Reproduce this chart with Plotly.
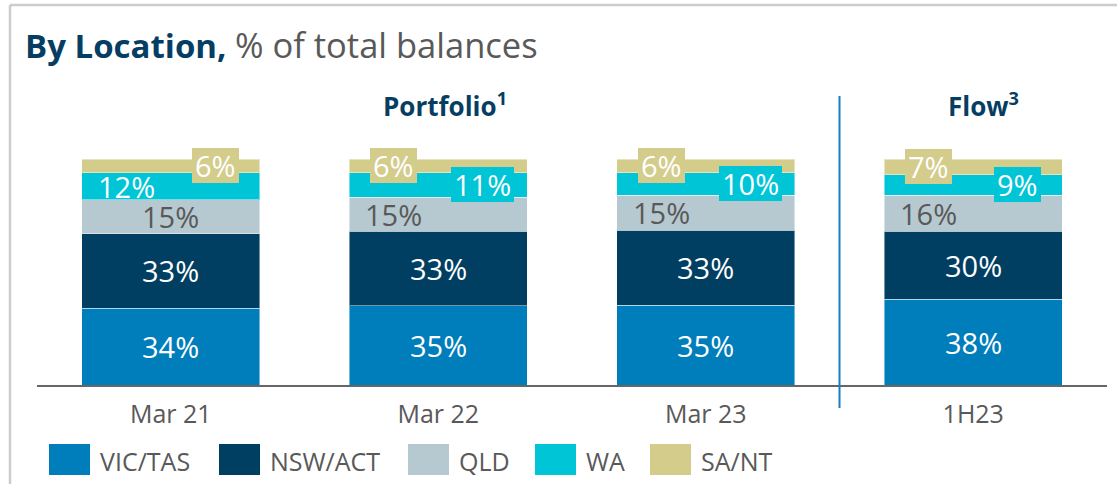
import plotly.graph_objects as go

# ---------------- data ----------------
categories = ["Mar 21", "Mar 22", "Mar 23", "1H23"]
series_names = ["VIC/TAS", "NSW/ACT", "QLD", "WA", "SA/NT"]
vic_tas = [34, 35, 35.3, 38]
nsw_act = [33, 33, 33.2, 30]
qld = [15, 15, 15.4, 16]
wa = [12, 11, 10.1, 9]
sa_nt = [6, 6, 6.0, 7]
label_vic_tas = ["34%", "35%", "35%", "38%"]
label_nsw_act = ["33%", "33%", "33%", "30%"]
label_qld = ["15%", "15%", "15%", "16%"]
label_wa = ["12%", "11%", "10%", "9%"]
label_sa_nt = ["6%", "6%", "6%", "7%"]

values = [vic_tas, nsw_act, qld, wa, sa_nt]
labels = [label_vic_tas, label_nsw_act, label_qld, label_wa, label_sa_nt]

# ---------------- styles ----------------
colors = ["#007dbb", "#003f62", "#b7c9d0", "#00c5d7", "#d3cc8b"]
text_colors = ["white", "white", "#595959", "white", "white"]
# label placement per series/category: c=centre, l=left, r=right
placement = [
    ["c", "c", "c", "c"],
    ["c", "c", "c", "c"],
    ["c", "l", "l", "l"],
    ["l", "r", "r", "r"],
    ["r", "l", "l", "l"],
]
boxed = [
    [False] * 4,
    [False] * 4,
    [False] * 4,
    [False, True, True, True],
    [True, True, True, True],
]
shift = {"c": 0, "l": -44.5, "r": 44.5}

FONT = "Open Sans"
NAVY = "#063e63"
GRAY = "#595959"

W, H = 1117, 484
L, R, T, B = 37, 1107, 159, 385


def px_x(px):
    return (px - L) / (R - L)


def px_y(py):
    return (B - py) / (B - T)


fig = go.Figure()
for name, vals, col in zip(series_names, values, colors):
    fig.add_trace(
        go.Bar(
            x=categories,
            y=vals,
            name=name,
            marker=dict(color=col, line=dict(color="rgba(255,255,255,0.45)", width=1)),
            width=0.665,
            showlegend=False,
            hoverinfo="skip",
        )
    )

annotations = []
# segment labels
for ci, cat in enumerate(categories):
    base = 0
    for si in range(len(series_names)):
        v = values[si][ci]
        mid = base + v / 2
        base += v
        ann = dict(
            x=cat,
            y=mid,
            xref="x",
            yref="y",
            text=labels[si][ci],
            showarrow=False,
            xshift=shift[placement[si][ci]],
            font=dict(family=FONT, size=29, color=text_colors[si]),
        )
        if boxed[si][ci]:
            ann.update(bgcolor=colors[si], borderpad=3, borderwidth=0, height=29)
        annotations.append(ann)

# title
annotations.append(
    dict(
        x=px_x(23), y=px_y(44.5), xref="paper", yref="paper",
        xanchor="left", yanchor="middle", showarrow=False,
        text="<b>By Location,</b> <span style='color:%s;font-size:34.5px'>%% of total balances</span>" % GRAY,
        font=dict(family=FONT, size=33, color=NAVY),
    )
)
# section headers
for txt, x0 in [("Portfolio<sup>1</sup>", 381), ("Flow<sup>3</sup>", 946)]:
    annotations.append(
        dict(
            x=px_x(x0), y=px_y(104.5), xref="paper", yref="paper",
            xanchor="left", yanchor="middle", showarrow=False,
            text="<b>%s</b>" % txt,
            font=dict(family=FONT, size=26, color=NAVY),
        )
    )

shapes = []
# custom legend
legend_x = [49, 219, 408, 535, 650]
for name, col, lx in zip(series_names, colors, legend_x):
    shapes.append(
        dict(type="rect", xref="paper", yref="paper",
             x0=px_x(lx), x1=px_x(lx + 41), y0=px_y(475), y1=px_y(444),
             fillcolor=col, line=dict(width=0))
    )
    annotations.append(
        dict(x=px_x(lx + 49), y=px_y(461), xref="paper", yref="paper",
             xanchor="left", yanchor="middle", showarrow=False, text=name,
             font=dict(family=FONT, size=25, color=GRAY))
    )

# separator between portfolio and flow
shapes.append(
    dict(type="line", xref="x", yref="paper", x0=2.5, x1=2.5,
         y0=px_y(408), y1=px_y(96), line=dict(color="#1a7fc0", width=2))
)
# outer frame (left & top edges)
shapes.append(
    dict(type="line", xref="paper", yref="paper", x0=px_x(10), x1=px_x(10),
         y0=px_y(5), y1=px_y(500), line=dict(color="#cccccc", width=2.5))
)
shapes.append(
    dict(type="line", xref="paper", yref="paper", x0=px_x(10), x1=px_x(1130),
         y0=px_y(5), y1=px_y(5), line=dict(color="#cccccc", width=2.5))
)

fig.update_layout(
    width=W,
    height=H,
    barmode="stack",
    margin=dict(l=L, r=W - R, t=T, b=H - B, pad=0),
    paper_bgcolor="white",
    plot_bgcolor="white",
    annotations=annotations,
    shapes=shapes,
    showlegend=False,
    xaxis=dict(
        showline=True, linecolor="#666666", linewidth=2,
        ticks="outside", ticklen=6, tickcolor="rgba(0,0,0,0)",
        tickfont=dict(family=FONT, size=25, color=GRAY),
        showgrid=False, zeroline=False, fixedrange=True,
    ),
    yaxis=dict(visible=False, range=[0, 100], fixedrange=True),
    font=dict(family=FONT),
)

fig.write_html(
    "out.html",
    config={"displayModeBar": False},
    post_script="document.body.style.margin='0px';document.body.style.overflow='hidden';",
)
